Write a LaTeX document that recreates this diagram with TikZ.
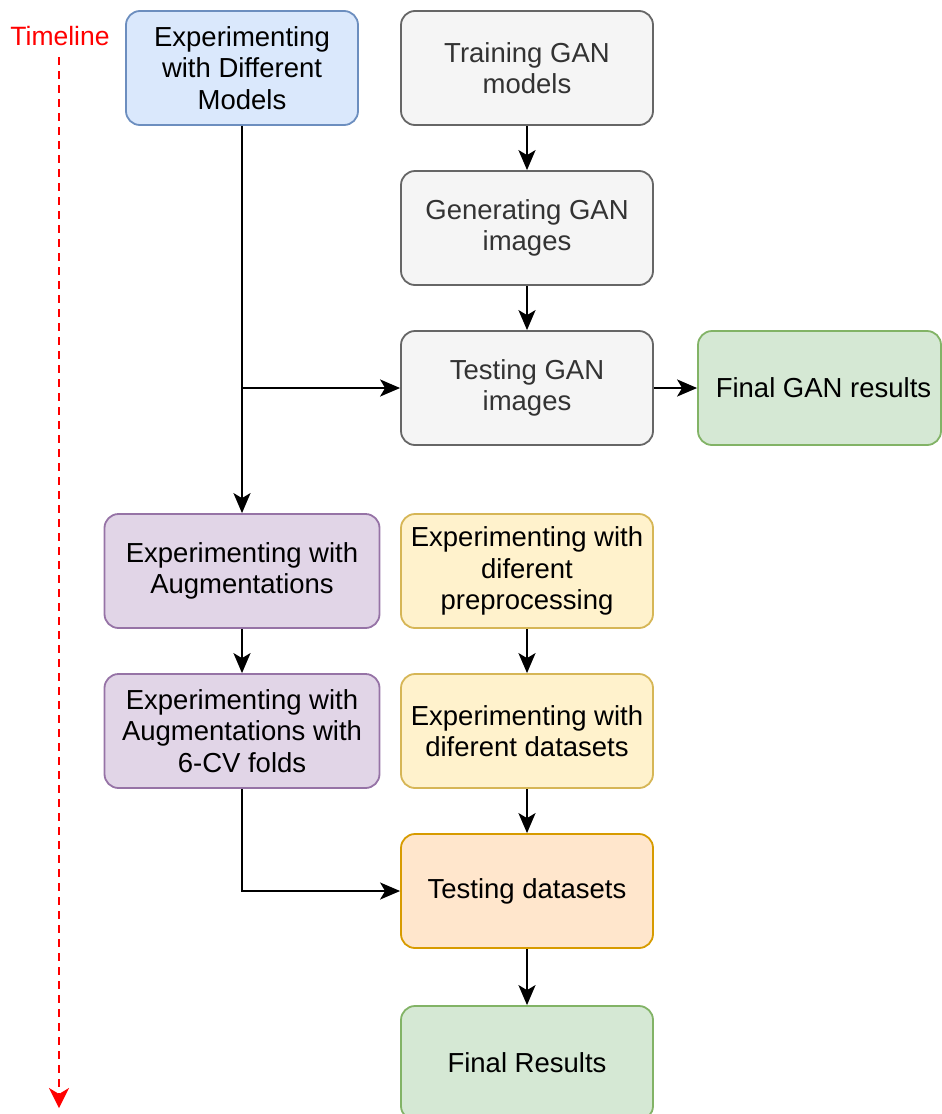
\documentclass[tikz,border=0pt]{standalone}
\usepackage{fontspec}
\setmainfont{Liberation Sans}
\usepackage{xcolor}
\usetikzlibrary{arrows.meta}
\definecolor{mdlfill}{HTML}{DAE8FC}\definecolor{mdldraw}{HTML}{6C8EBF}
\definecolor{ganfill}{HTML}{F5F5F5}\definecolor{gandraw}{HTML}{666666}
\definecolor{gantext}{HTML}{333333}
\definecolor{resfill}{HTML}{D5E8D4}\definecolor{resdraw}{HTML}{82B366}
\definecolor{augfill}{HTML}{E1D5E7}\definecolor{augdraw}{HTML}{9673A6}
\definecolor{prefill}{HTML}{FFF2CC}\definecolor{predraw}{HTML}{D6B656}
\definecolor{tstfill}{HTML}{FFE6CC}\definecolor{tstdraw}{HTML}{D79B00}

\begin{document}
\begin{tikzpicture}[x=1pt,y=-1pt,
  box/.style={draw,line width=1.8pt,rounded corners=14pt,minimum height=114pt,
    align=center,inner sep=0pt,font=\fontsize{27.5}{31.5}\selectfont},
  mdlbox/.style={box,fill=mdlfill,draw=mdldraw,minimum width=232pt},
  ganbox/.style={box,fill=ganfill,draw=gandraw,text=gantext,minimum width=252pt},
  resbox/.style={box,fill=resfill,draw=resdraw},
  augbox/.style={box,fill=augfill,draw=augdraw,minimum width=275pt},
  prebox/.style={box,fill=prefill,draw=predraw,minimum width=252pt},
  tstbox/.style={box,fill=tstfill,draw=tstdraw,minimum width=252pt},
  arr/.style={line width=2.2pt,-{Stealth[length=20pt,width=17pt,inset=5pt]}}]
  \useasboundingbox (0,0) rectangle (942,1114);
  % timeline
  \node[text=red,font=\fontsize{26.5}{30}\selectfont] (tl) at (60,36) {Timeline};
  \coordinate (tltop) at (59,57); \coordinate (tlend) at (59,1108);
  \draw[red,line width=2.2pt,dash pattern=on 8pt off 6pt,-{Stealth[length=20pt,width=20pt,inset=6pt]}] (tltop) -- (tlend);
  % left column
  \node[mdlbox] (models) at (242,68) {Experimenting\\with Different\\Models};
  \node[augbox] (aug) at (242,571) {Experimenting with\\Augmentations};
  \node[augbox] (augcv) at (242,731) {Experimenting with\\Augmentations with\\6-CV folds};
  % GAN column
  \node[ganbox] (train) at (527,68) {Training GAN\\models};
  \node[ganbox] (gen) at (527,228) {Generating GAN\\images};
  \node[ganbox] (testgan) at (527,388) {Testing GAN\\images};
  \node[resbox,minimum width=243pt] (ganres) at (819.5,388) {\hspace*{8pt}Final GAN results};
  % dataset column
  \node[prebox] (prep) at (527,571) {Experimenting with\\diferent\\preprocessing};
  \node[prebox] (data) at (527,731) {Experimenting with\\diferent datasets};
  \node[tstbox] (testdata) at (527,891) {Testing datasets};
  \node[resbox,minimum width=252pt] (final) at (527,1063) {Final Results};
  % connectors
  \draw[arr] (models) -- (aug);
  \coordinate (split) at (models.south |- testgan.west);
  \draw[arr] (split) -- (testgan);
  \draw[arr] (train) -- (gen);
  \draw[arr] (gen) -- (testgan);
  \draw[arr] (testgan) -- (ganres);
  \draw[arr] (aug) -- (augcv);
  \draw[arr] (augcv.south) |- (testdata.west);
  \draw[arr] (prep) -- (data);
  \draw[arr] (data) -- (testdata);
  \draw[arr] (testdata) -- (final);
\end{tikzpicture}
\end{document}
